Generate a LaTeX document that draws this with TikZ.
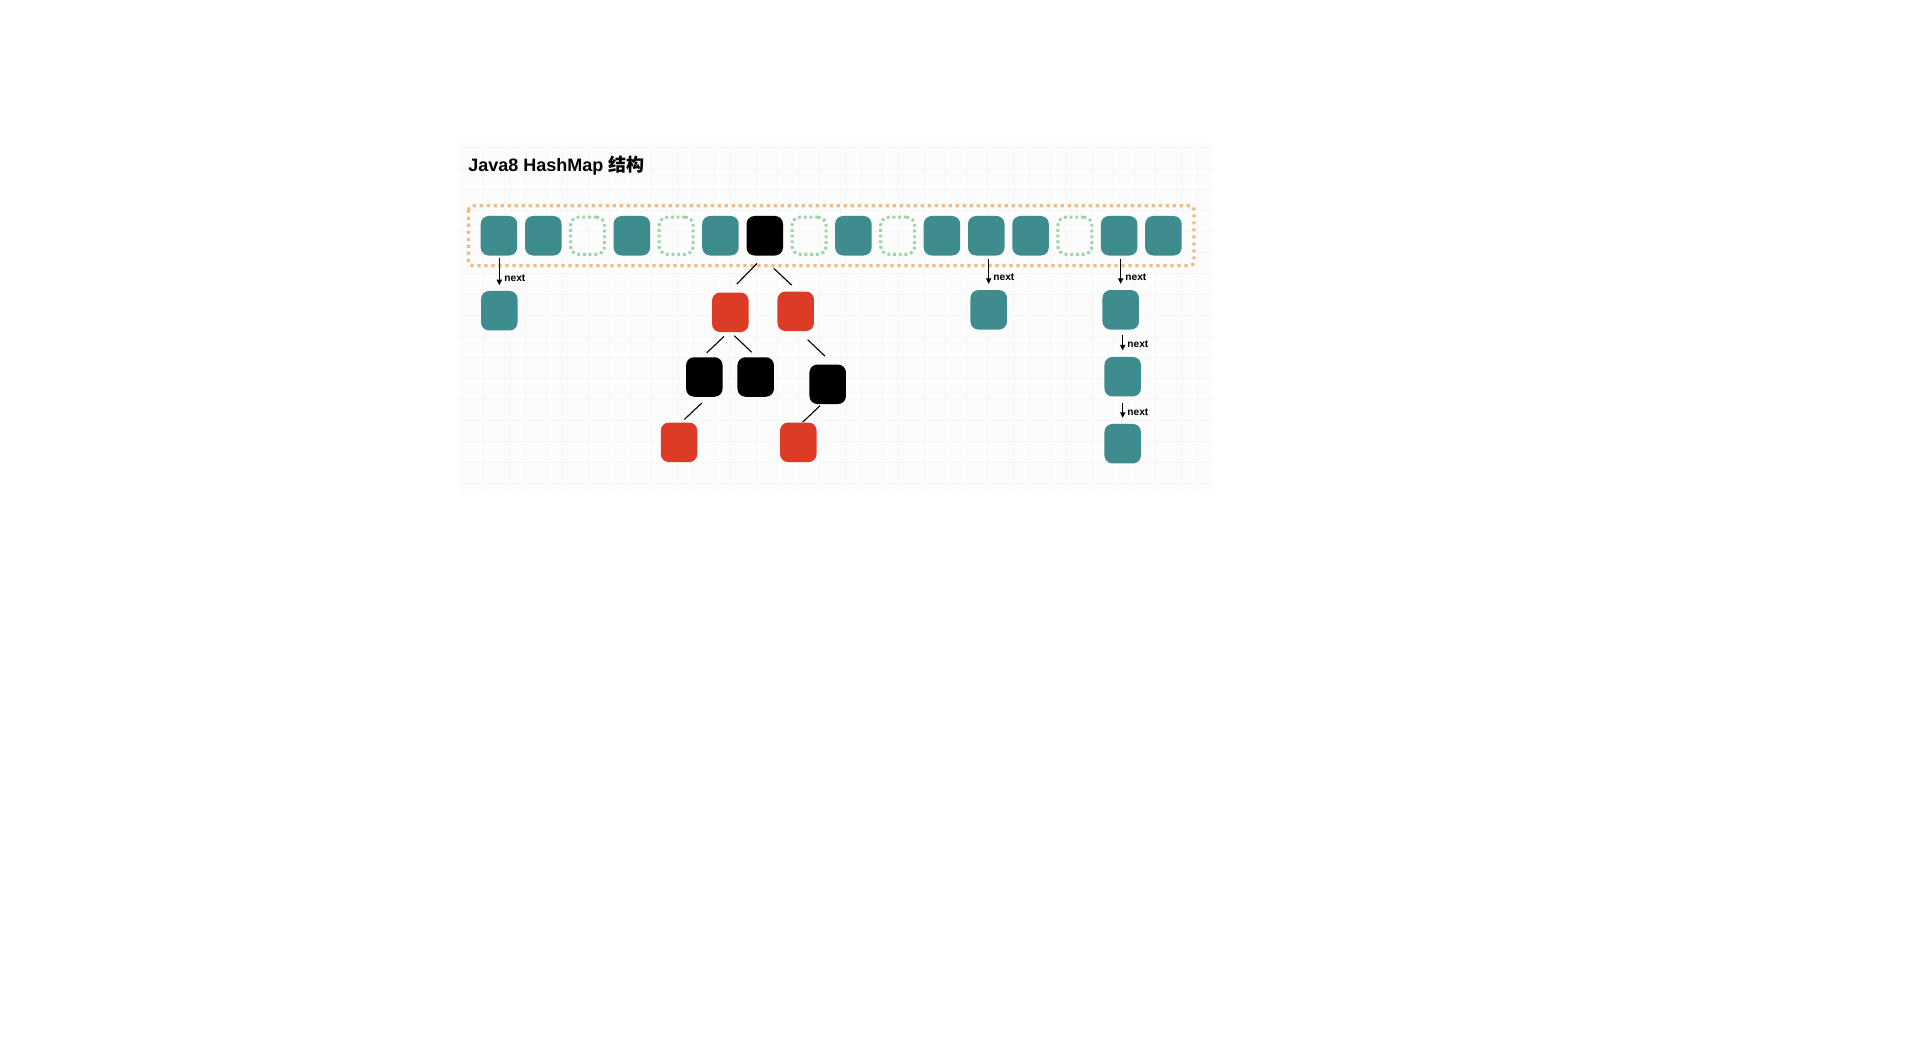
\documentclass[tikz,border=0pt]{standalone}
\usepackage{fontspec}
\setmainfont{Liberation Sans}
\newfontfamily\cjk{Noto Sans CJK SC}
\usetikzlibrary{calc,arrows.meta}
\definecolor{teal1}{HTML}{3F8C8E}
\definecolor{red1c}{HTML}{DC3C26}
\definecolor{orng}{HTML}{EBBE85}
\definecolor{grn}{HTML}{9ED4A6}
\definecolor{bgc}{HTML}{FCFCFC}
\definecolor{gridc}{HTML}{F7F7F7}
\tikzset{
  cellbox/.style={rectangle, rounded corners=4pt, minimum width=18.25pt, minimum height=19.75pt, inner sep=0pt, draw=none},
  tealbox/.style={cellbox, fill=teal1},
  redbox/.style={cellbox, fill=red1c},
  blackbox/.style={cellbox, fill=black},
  emptybox/.style={cellbox, draw=grn, line width=1.5pt, line cap=butt, dash pattern=on 1.4pt off 1.45pt, minimum width=17pt, minimum height=18.5pt},
  treeline/.style={draw=black, line width=0.55pt},
  nextarrow/.style={draw=black, line width=0.6pt, -{Triangle[width=2.6pt,length=2.8pt]}},
  nextlabel/.style={anchor=base west, inner sep=0pt, font=\fontsize{5.1pt}{6pt}\selectfont\bfseries}
}
\begin{document}
\begin{tikzpicture}[x=0.5pt, y=-0.5pt]
\useasboundingbox (0,0) rectangle (1914,1059);
% faint canvas
\fill[bgc] (458,143) rectangle (1212,490);
\draw[gridc, line width=0.3pt, step=10.5pt] (458,143) grid (1212,490);
% title
\node[anchor=base west, inner sep=0pt, font=\fontsize{9pt}{11pt}\selectfont\bfseries] (title) at (468,171.5) {Java8 HashMap {\cjk\bfseries 结构}};
% table border
\draw[orng, line width=1.6pt, line cap=butt, dash pattern=on 1.6pt off 1.9pt, rounded corners=2pt] (468.5,205.7) rectangle (1194,265.7);
% cells
\foreach \i/\s in {0/tealbox,1/tealbox,2/emptybox,3/tealbox,4/emptybox,5/tealbox,6/blackbox,7/emptybox,8/tealbox,9/emptybox,10/tealbox,11/tealbox,12/tealbox,13/emptybox,14/tealbox,15/tealbox}{
  \node[\s] (c\i) at ({498.95+44.3*\i},235.75) {};
}
% chain under cell 0
\node[tealbox] (low0) at (499.3,310.7) {};
\draw[nextarrow] ([yshift=-1.25pt]c0.south -| low0.north) -- ([yshift=2.65pt]low0.north);
\node[nextlabel] (n0) at (504,281) {next};
% chain under cell 11
\node[tealbox] (la) at (988.7,309.8) {};
\draw[nextarrow] ([yshift=-1.6pt]c11.south -| la.north) -- ([yshift=2.9pt]la.north);
\node[nextlabel] (n1) at (993,280.5) {next};
% chain under cell 14
\node[tealbox] (lb) at (1120.7,309.8) {};
\node[tealbox] (lc) at (1122.7,376.7) {};
\node[tealbox] (ld) at (1122.7,443.7) {};
\draw[nextarrow] ([yshift=-1.6pt]c14.south -| lb.north) -- ([yshift=2.9pt]lb.north);
\node[nextlabel] (n2) at (1125,280.5) {next};
\draw[nextarrow] ([yshift=-2.5pt]lb.south -| lc.north) -- ([yshift=3.1pt]lc.north);
\node[nextlabel] (n3) at (1127,347.5) {next};
\draw[nextarrow] ([yshift=-3pt]lc.south -| ld.north) -- ([yshift=2.85pt]ld.north);
\node[nextlabel] (n4) at (1127,415) {next};
% red-black tree
\node[redbox] (r1) at (730.3,312.3) {};
\node[redbox] (r2) at (795.7,311.3) {};
\node[blackbox] (b1) at (704.3,377) {};
\node[blackbox] (b2) at (755.7,377) {};
\node[blackbox] (b3) at (827.7,384.3) {};
\node[redbox] (r3) at (679,442.3) {};
\node[redbox] (r4) at (798.3,442.3) {};
\draw[treeline] ($(c6.south)+(-7.7,7.5)$) -- ($(r1.north)+(6.4,-8)$);
\draw[treeline] ($(c6.south)+(9,12.5)$) -- ($(r2.north)+(-4,-6)$);
\draw[treeline] ($(r1.south)+(-6.3,4)$) -- ($(b1.north)+(2.4,-4)$);
\draw[treeline] ($(r1.south)+(4,3.3)$) -- ($(b2.north)+(-4,-4.6)$);
\draw[treeline] ($(r2.south)+(12,8.3)$) -- ($(b3.north)+(-2.7,-8)$);
\draw[treeline] ($(b1.south)+(-2.6,6)$) -- ($(r3.north)+(5.3,-2.7)$);
\draw[treeline] ($(b3.south)+(-7.7,1.3)$) -- ($(r4.north)+(4.4,0)$);
\end{tikzpicture}
\end{document}
